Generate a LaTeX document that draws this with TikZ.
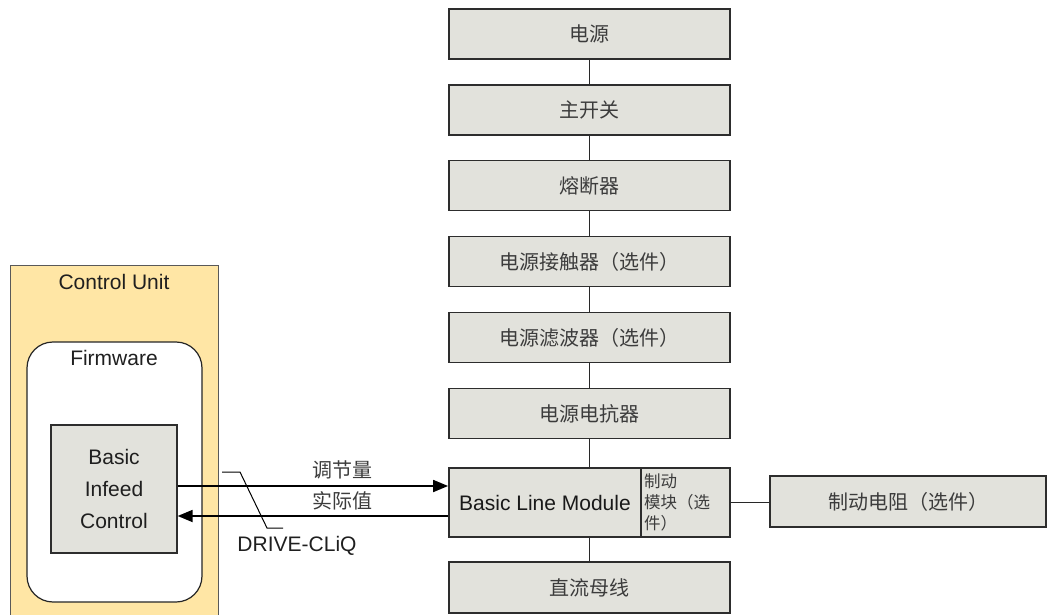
\documentclass[tikz,border=0pt]{standalone}
\usepackage{fontspec}
\setmainfont{Liberation Sans}
\newfontfamily\cjk{Noto Sans CJK SC}
\usetikzlibrary{arrows.meta}
\definecolor{boxgray}{RGB}{226,226,220}
\definecolor{cuyellow}{RGB}{255,230,165}
\definecolor{txtgray}{RGB}{60,60,60}

\begin{document}
\begin{tikzpicture}[x=1pt,y=1pt,yscale=-1,xscale=1,
  box/.style={draw={rgb,255:red,45;green,45;blue,45},line width=1.8pt,fill=boxgray,
    minimum width=281pt,minimum height=50pt,inner sep=0pt,
    font=\cjk\fontsize{20}{24}\selectfont,text=txtgray},
  link/.style={draw={rgb,255:red,40;green,40;blue,40},line width=1.5pt},
  sig/.style={line width=1.8pt,-{Triangle[length=15pt,width=12pt]}},
  lbl/.style={inner sep=0.75pt,font=\fontsize{21}{25}\selectfont,text=black!88}]
\useasboundingbox (0,0) rectangle (1050,615);

%Shape: Rectangle [control unit]
\draw [draw=black!65,line width=1pt,fill=cuyellow] (10,265) rectangle (218,630);
% Text Node
\node (cu) [lbl] at (114,282) {Control Unit};
%Shape: Rounded Rectangle [firmware]
\draw [draw=black!85,line width=1.2pt,fill=white,rounded corners=26pt] (27,342) rectangle (202,602);
% Text Node
\node (fw) [lbl] at (114,358) {Firmware};
%Shape: Rectangle [basic infeed control]
\node (bic) [box,minimum width=126pt,minimum height=128pt,line width=1.3pt,
  font=\fontsize{21}{32}\selectfont,text=black!88,align=center] at (114,489) {Basic\\Infeed\\Control};

%Shape: Rectangle [chain]
\node (psu) [box] at (589.5,34) {电源};
\node (mainsw) [box] at (589.5,110) {主开关};
\node (fuse) [box] at (589.5,185.5) {熔断器};
\node (contactor) [box] at (589.5,261.5) {电源接触器（选件）};
\node (filter) [box] at (589.5,337.5) {电源滤波器（选件）};
\node (reactor) [box] at (589.5,413.5) {电源电抗器};
\node (blm) [box,minimum width=192pt,minimum height=69pt,
  font=\fontsize{21}{25}\selectfont,text=black!90] at (545,502.5) {Basic Line Module};
\node (brkmod) [box,minimum width=89pt,minimum height=69pt] at (685.5,502.5) {};
\node (brktxt) [anchor=west,inner sep=0pt,align=left,text=txtgray,
  font=\cjk\fontsize{16.5}{21}\selectfont] at (644,502) {制动\\模块（选\\件）};
\node (dcbus) [box,minimum height=51pt] at (589.5,587.5) {直流母线};
\node (resistor) [box,minimum width=276pt,minimum height=51pt] at (908,501.5) {制动电阻（选件）};

%Straight Lines
\draw [link] (psu) -- (mainsw);
\draw [link] (mainsw) -- (fuse);
\draw [link] (fuse) -- (contactor);
\draw [link] (contactor) -- (filter);
\draw [link] (filter) -- (reactor);
\draw [link] (reactor.south) -- (reactor.south |- blm.north);
\draw [link] (dcbus.north |- blm.south) -- (dcbus.north);
\draw [link] (brkmod.east) -- (brkmod.east -| resistor.west);

%Straight Lines [signals]
\coordinate (cmd) at (300,486);
\coordinate (act) at (300,516);
\draw [sig] (bic.east |- cmd) -- (blm.west |- cmd);
\draw [sig] (blm.west |- act) -- (bic.east |- act);
% Text Node
\node (setp) [inner sep=0.75pt,font=\cjk\fontsize{20}{24}\selectfont,text=txtgray] at (342,470) {调节量};
\node (actv) [inner sep=0.75pt,font=\cjk\fontsize{20}{24}\selectfont,text=txtgray] at (342,501) {实际值};
\node (cliq) [lbl] at (297,546) {DRIVE-CLiQ};
%Straight Lines [leader]
\coordinate (ldA) at (222,472);
\coordinate (ldB) at (240,472);
\coordinate (ldC) at (267,528);
\coordinate (ldD) at (283,528);
\draw [line width=1pt] (ldA) -- (ldB) -- (ldC) -- (ldD);
\end{tikzpicture}
\end{document}
